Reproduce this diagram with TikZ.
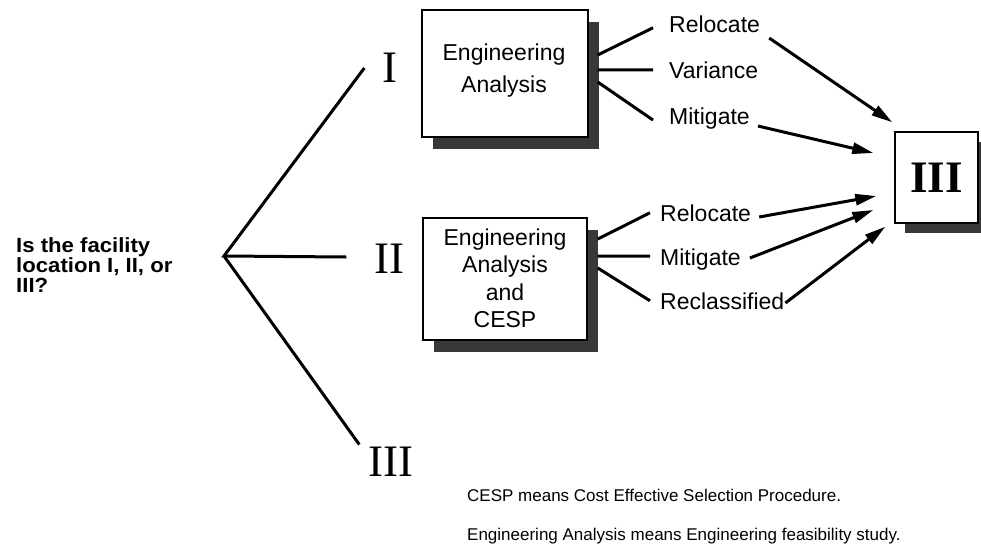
\documentclass[tikz,border=0pt]{standalone}
\usepackage{fontspec}
\setmainfont{Liberation Sans}
\newfontfamily\numfont{Liberation Serif}
\newfontfamily\qfont[FakeStretch=1.08]{Liberation Sans}
\usetikzlibrary{shadows,arrows.meta,calc}
\begin{document}
\begin{tikzpicture}[x=1pt,y=-1pt,
  line/.style={line width=3pt},
  arr/.style={line width=3pt,-{Triangle[length=21pt,width=11pt]}},
  box/.style={draw,line width=1.4pt,fill=white,
    drop shadow={shadow xshift=11pt,shadow yshift=-12pt,fill=black!78,opacity=1}},
  smallbox/.style={draw,line width=1.4pt,fill=white,
    drop shadow={shadow xshift=10pt,shadow yshift=-10pt,fill=black!78,opacity=1}},
  lab/.style={inner sep=0pt,anchor=base west,font=\fontsize{23}{27}\selectfont},
  boxtext/.style={inner sep=0pt,align=center},
  roman/.style={inner sep=0pt,font=\numfont\fontsize{45}{50}\selectfont},
  note/.style={inner sep=0pt,anchor=base west,font=\fontsize{17}{20}\selectfont}]
\useasboundingbox (0,0) rectangle (981,546);

% question
\node[inner sep=0pt,anchor=north west,align=left,
  font=\qfont\bfseries\fontsize{20.5}{20}\selectfont] (q) at (16,237)
  {Is the facility\\location I, II, or\\III?};
\coordinate (apex) at (224,256);

% numerals
\node[roman] (n1) at (390,68) {I};
\node[roman] (n2) at (389.5,258.5) {II};
\node[roman] (n3) at (391,461.5) {III};
\draw[line] ($(n1.west)+(-18,0)$) -- (apex) -- ($(n2.west)+(-28,-1.5)$);
\draw[line] (apex) -- ($(n3.north west)+(-9,-2)$);

% boxes
\node[box,minimum width=166pt,minimum height=127pt] (ea1) at (505,73.5) {};
\node[boxtext,font=\fontsize{23}{32}\selectfont] (ea1t) at (504,70.5) {Engineering\\Analysis};
\node[box,minimum width=164pt,minimum height=122pt] (ea2) at (505,279) {};
\node[boxtext,font=\fontsize{23}{27.5}\selectfont] (ea2t) at (505,278.5) {Engineering\\Analysis\\and\\CESP};
\node[smallbox,minimum width=83pt,minimum height=91pt,
  font=\numfont\bfseries\fontsize{45}{50}\selectfont] (b3) at (936.5,177.5) {III};

% labels
\node[lab] (r1) at (669,32) {Relocate};
\node[lab] (v1) at (669,78) {Variance};
\node[lab] (m1) at (669,124) {Mitigate};
\node[lab] (r2) at (660,221) {Relocate};
\node[lab] (m2) at (660,265) {Mitigate};
\node[lab] (c2) at (660,309) {Reclassified};

% fan lines
\draw[line] ($(ea1.east)+(9,-18.5)$) -- ($(r1.west)+(-16,4)$);
\draw[line] ($(ea1.east)+(9,-3.5)$) -- ($(v1.west)+(-16,0)$);
\draw[line] ($(ea1.east)+(9,8.5)$) -- ($(m1.west)+(-16,2)$);
\draw[line] ($(ea2.east)+(10,-40)$) -- ($(r2.west)+(-10,0)$);
\draw[line] ($(ea2.east)+(10,-23)$) -- ($(m2.west)+(-10,-3)$);
\draw[line] ($(ea2.east)+(10,-11)$) -- ($(c2.west)+(-10,0)$);

% arrows
\draw[arr] ($(r1.base east)+(9,6)$) -- ($(b3.north west)+(-2,-9)$);
\draw[arr] ($(m1.base east)+(8,2)$) -- ($(b3.west)+(-21,-24.5)$);
\draw[arr] ($(r2.base east)+(8,-4)$) -- ($(b3.west)+(-18,18.5)$);
\draw[arr] ($(m2.base east)+(9,-7)$) -- ($(b3.west)+(-21,32.5)$);
\draw[arr] ($(c2.base east)+(1,-6)$) -- ($(b3.south west)+(-9,3)$);

% notes
\node[note] (f1) at (467,501) {CESP means Cost Effective Selection Procedure.};
\node[note] (f2) at (467,540) {Engineering Analysis means Engineering feasibility study.};
\end{tikzpicture}
\end{document}
